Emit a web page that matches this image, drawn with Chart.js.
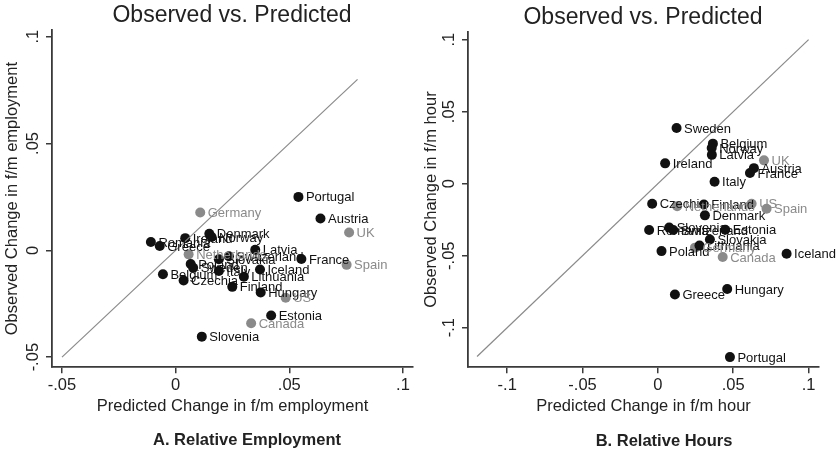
<!DOCTYPE html>
<html>
<head>
<meta charset="utf-8">
<script src="https://cdn.jsdelivr.net/npm/chart.js@4.4.1/dist/chart.umd.min.js"></script>
<style>
  html, body { margin: 0; padding: 0; background: #fff; }
  #wrap { position: relative; display: flex; width: 838px; height: 454px; }
  canvas { display: block; }
  .txt {
    position: absolute; width: 320px; text-align: center; color: #222;
    font-family: "Liberation Sans", Arial, sans-serif; white-space: nowrap;
  }
  .title { font-size: 23px; line-height: 23px; }
  .caption { font-size: 16.5px; line-height: 16.5px; font-weight: bold; }
</style>
</head>
<body>
<div id="wrap">
  <canvas id="empChart" width="419" height="454"></canvas>
  <canvas id="hrsChart" width="419" height="454"></canvas>
  <div class="txt title" style="left:72px; top:3px;">Observed vs. Predicted</div>
  <div class="txt title" style="left:483px; top:5px;">Observed vs. Predicted</div>
  <div class="txt caption" style="left:87px; top:431px;">A. Relative Employment</div>
  <div class="txt caption" style="left:504px; top:432px;">B. Relative Hours</div>
</div>
<script>
// A. relative employment
const empCountries = ['Portugal', 'Austria', 'UK', 'Spain', 'France', 'Germany', 'Denmark', 'Norway',
  'Ireland', 'Romania', 'Greece', 'Netherlands', 'Latvia', 'Switzerland', 'Slovakia', 'Poland',
  'Sweden', 'Italy', 'Iceland', 'Lithuania', 'Belgium', 'Czechia', 'Finland', 'Hungary', 'US',
  'Estonia', 'Canada', 'Slovenia'];
const empPredicted = [0.054, 0.0637, 0.0763, 0.0752, 0.0553, 0.0108, 0.0148, 0.0158,
  0.0042, -0.0109, -0.007, 0.0057, 0.035, 0.0234, 0.019, 0.0066,
  0.0077, 0.019, 0.0371, 0.030, -0.0056, 0.0035, 0.0249, 0.0374, 0.0484,
  0.042, 0.0332, 0.0115];
const empObserved = [0.025, 0.0149, 0.0083, -0.0068, -0.0041, 0.0177, 0.0077, 0.0062,
  0.0057, 0.0039, 0.002, -0.0019, 0.0003, -0.0028, -0.0042, -0.0064,
  -0.0082, -0.0097, -0.009, -0.0124, -0.0112, -0.0141, -0.0171, -0.0197, -0.0222,
  -0.0305, -0.0341, -0.0404];

// B. relative hours
const hrsCountries = ['Sweden', 'Belgium', 'Norway', 'Latvia', 'Ireland', 'UK', 'Austria', 'France',
  'Italy', 'Czechia', 'Netherlands', 'Finland', 'US', 'Spain', 'Denmark', 'Romania', 'Slovenia',
  'Switzerland', 'Estonia', 'Slovakia', 'Lithuania', 'Germany', 'Poland', 'Canada', 'Iceland',
  'Hungary', 'Greece', 'Portugal'];
const hrsPredicted = [0.0124, 0.0365, 0.0357, 0.0358, 0.0048, 0.0704, 0.0637, 0.0611,
  0.0376, -0.0038, 0.0128, 0.0305, 0.0622, 0.0721, 0.0312, -0.0058, 0.0075,
  0.0102, 0.0447, 0.0345, 0.0276, 0.0246, 0.0024, 0.043, 0.0854,
  0.046, 0.0113, 0.0478];
const hrsObserved = [0.0386, 0.0278, 0.0248, 0.02, 0.0141, 0.0162, 0.0108, 0.0074,
  0.0014, -0.0139, -0.0157, -0.0144, -0.0139, -0.0174, -0.022, -0.0322, -0.0305,
  -0.0322, -0.032, -0.0388, -0.043, -0.0444, -0.0468, -0.0509, -0.0486,
  -0.0731, -0.0769, -0.1204];

// countries drawn in grey
const greyCountries = ['Germany', 'UK', 'Spain', 'Netherlands', 'US', 'Canada'];

const empTicks = [-0.05, 0, 0.05, 0.1];
const empTickLabels = ['-.05', '0', '.05', '.1'];
const hrsTicks = [-0.1, -0.05, 0, 0.05, 0.1];
const hrsTickLabels = ['-.1', '-.05', '0', '.05', '.1'];

// 45-degree reference line: start and end
const empLine = [-0.05, 0.08];
const hrsLine = [-0.12, 0.1];

const FONT = '"Liberation Sans", Arial, sans-serif';
const BLACK = '#111';
const GREY = '#8a8a8a';
const AXIS = '#3a3a3a';

const pointLabels = {
  id: 'pointLabels',
  afterDatasetsDraw(chart) {
    const ctx = chart.ctx;
    ctx.save();
    ctx.font = '13px ' + FONT;
    ctx.textBaseline = 'middle';
    chart.data.datasets.forEach((ds, i) => {
      if (!ds.names) return;
      ctx.fillStyle = ds.backgroundColor;
      chart.getDatasetMeta(i).data.forEach((pt, j) => {
        ctx.fillText(ds.names[j], pt.x + 7.5, pt.y + 1);
      });
    });
    ctx.restore();
  }
};

function points(names, xs, ys, grey) {
  const out = { names: [], data: [] };
  names.forEach((n, i) => {
    if (greyCountries.includes(n) === grey) {
      out.names.push(n);
      out.data.push({ x: xs[i], y: ys[i] });
    }
  });
  return out;
}

function makePanel(id, p) {
  const black = points(p.names, p.xs, p.ys, false);
  const grey = points(p.names, p.xs, p.ys, true);
  const fmt = (ticks, labels) => v => {
    const k = ticks.findIndex(t => Math.abs(t - v) < 1e-9);
    return k < 0 ? '' : labels[k];
  };

  return new Chart(document.getElementById(id), {
    type: 'scatter',
    data: {
      datasets: [
        {
          type: 'line',
          data: p.line.map(v => ({ x: v, y: v })),
          borderColor: '#8a8a8a',
          borderWidth: 1.2,
          pointRadius: 0,
          fill: false,
        },
        {
          names: black.names,
          data: black.data,
          backgroundColor: BLACK,
          borderWidth: 0,
          pointRadius: 5,
        },
        {
          names: grey.names,
          data: grey.data,
          backgroundColor: GREY,
          borderWidth: 0,
          pointRadius: 5,
        },
      ],
    },
    options: {
      responsive: false,
      animation: false,
      devicePixelRatio: 1,
      layout: { padding: { left: 0, right: p.padRight, top: p.padTop, bottom: 37.5 } },
      plugins: {
        legend: { display: false },
        tooltip: { enabled: false },
      },
      scales: {
        x: {
          type: 'linear',
          min: p.xMin,
          max: p.xMax,
          afterBuildTicks: s => { s.ticks = p.ticks.map(v => ({ value: v })); },
          ticks: {
            color: '#222',
            font: { family: FONT, size: 16.5 },
            padding: 2.5,
            maxRotation: 0,
            callback: fmt(p.ticks, p.tickLabels),
          },
          grid: { drawOnChartArea: false, drawTicks: true, tickLength: 6, color: AXIS, lineWidth: 1.5 },
          border: { display: true, color: AXIS, width: 1.8 },
          title: {
            display: true,
            text: p.xTitle,
            color: '#222',
            font: { family: FONT, size: 16.5, lineHeight: 1.0 },
            padding: { top: 0, bottom: 2 },
          },
        },
        y: {
          type: 'linear',
          min: p.yMin,
          max: p.yMax,
          afterBuildTicks: s => { s.ticks = p.ticks.map(v => ({ value: v })); },
          afterFit: s => { s.width = p.yWidth; },
          ticks: {
            color: '#222',
            font: { family: FONT, size: 16.5 },
            minRotation: 90,
            maxRotation: 90,
            crossAlign: 'center',
            padding: -2,
            callback: fmt(p.ticks, p.tickLabels),
          },
          grid: { drawOnChartArea: false, drawTicks: true, tickLength: 6, color: AXIS, lineWidth: 1.5 },
          border: { display: true, color: AXIS, width: 1.8 },
          title: {
            display: true,
            text: p.yTitle,
            color: '#222',
            font: { family: FONT, size: 16.5 },
            padding: { top: 3, bottom: 0 },
          },
        },
      },
    },
    plugins: [pointLabels],
  });
}

makePanel('empChart', {
  names: empCountries, xs: empPredicted, ys: empObserved,
  ticks: empTicks, tickLabels: empTickLabels, line: empLine,
  xMin: -0.0544, xMax: 0.1044, yMin: -0.0547, yMax: 0.1031,
  xTitle: 'Predicted Change in f/m employment',
  yTitle: 'Observed Change in f/m employment',
  yWidth: 52, padRight: 6, padTop: 30,
});

makePanel('hrsChart', {
  names: hrsCountries, xs: hrsPredicted, ys: hrsObserved,
  ticks: hrsTicks, tickLabels: hrsTickLabels, line: hrsLine,
  xMin: -0.126, xMax: 0.1069, yMin: -0.1274, yMax: 0.1053,
  xTitle: 'Predicted Change in f/m hour',
  yTitle: 'Observed Change in f/m hour',
  yWidth: 49, padRight: 19, padTop: 32,
});
</script>
</body>
</html>
